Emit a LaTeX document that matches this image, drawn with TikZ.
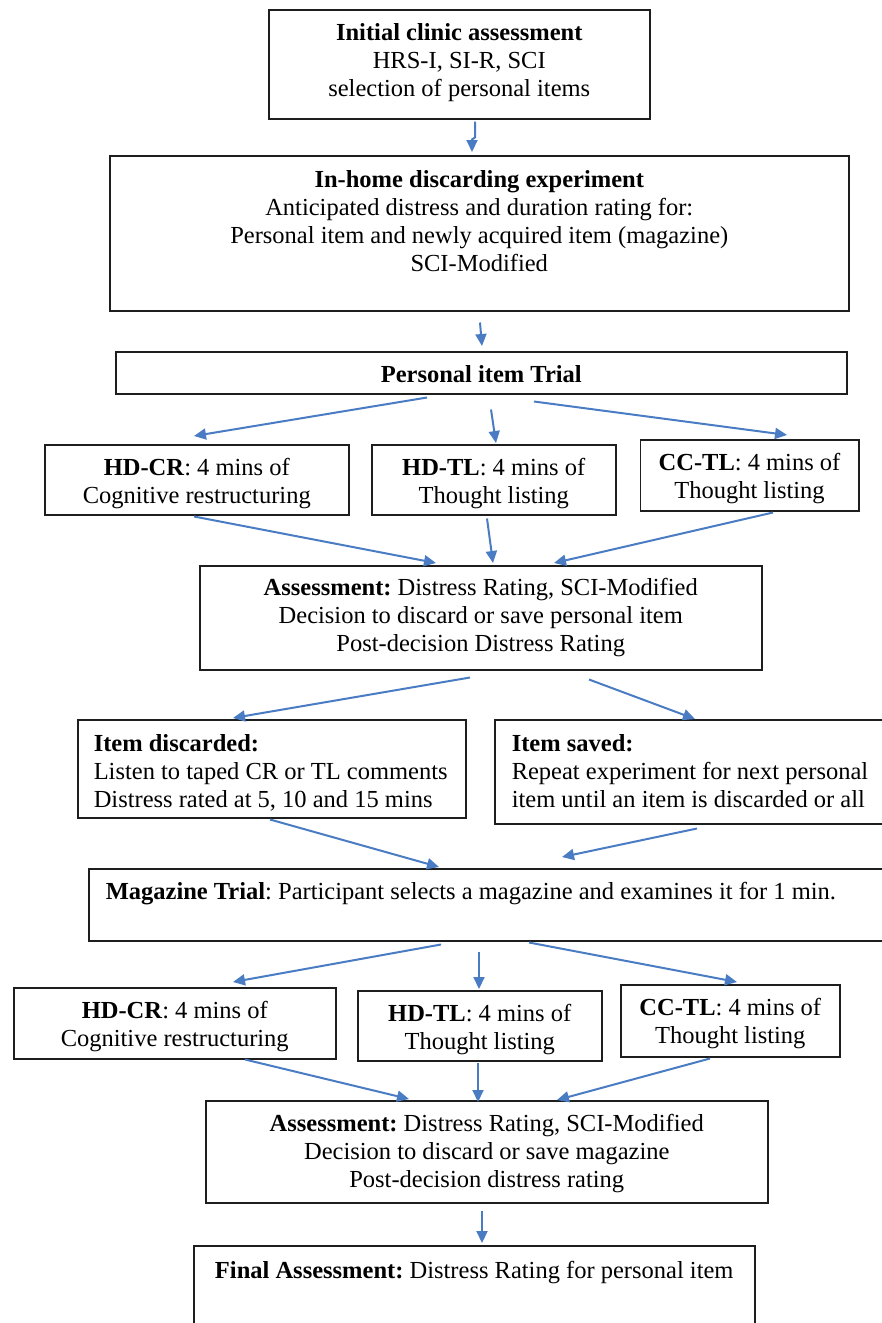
\documentclass[tikz,border=0pt]{standalone}
\usepackage{fontspec}
\setmainfont{Liberation Serif}
\usetikzlibrary{arrows.meta}
\definecolor{arrblue}{HTML}{4A7CC4}
\definecolor{boxline}{HTML}{1E1E1E}
\newcommand\cbx[4]{\parbox[t][#2][t]{#1}{\vspace*{#3}\centering\strut #4}}
\newcommand\lbx[5]{\parbox[t][#2][t]{#1}{\vspace*{#3}\raggedright\leftskip=#4\strut #5}}
\frenchspacing
\begin{document}
\begin{tikzpicture}[x=1pt,y=-1pt,
  bx/.style={draw=boxline, line width=1.5pt, inner sep=0pt, anchor=north west,
    font=\fontsize{24.5}{28}\selectfont\frenchspacing},
  arr/.style={draw=arrblue, line width=2pt, -{Triangle[length=12pt,width=11pt]}}]
\useasboundingbox (0,0) rectangle (882,1323);
\clip (0,0) rectangle (882,1323);

\node[bx] (init) at (268,9) {\cbx{381pt}{109pt}{11.4pt}{\textbf{Initial clinic assessment}\\HRS-I, SI-R, SCI\\selection of personal items}};
\node[bx] (inhome) at (109,155) {\cbx{739pt}{155pt}{12.4pt}{\textbf{In-home discarding experiment}\\Anticipated distress and duration rating for:\\Personal item and newly acquired item (magazine)\\SCI-Modified}};
\node[bx] (trial) at (115,351) {\cbx{731pt}{42pt}{11.4pt}{\textbf{Personal item Trial}}};
\node[bx] (crA) at (44,444) {\cbx{304pt}{70pt}{11.4pt}{\textbf{HD-CR}: 4 mins of\\Cognitive restructuring}};
\node[bx] (tlA) at (371,444) {\cbx{244pt}{70pt}{11.4pt}{\textbf{HD-TL}: 4 mins of\\Thought listing}};
\node[bx] (ccA) at (639.5,439) {\cbx{218.5pt}{71pt}{11.4pt}{\textbf{CC-TL}: 4 mins of\\Thought listing}};
\node[bx] (assessA) at (199,565) {\cbx{562pt}{104pt}{10.4pt}{\textbf{Assessment:} Distress Rating, SCI-Modified\\Decision to discard or save personal item\\Post-decision Distress Rating}};
\node[bx] (disc) at (77,719) {\lbx{388pt}{98pt}{12.4pt}{16pt}{\textbf{Item discarded:}\\Listen to taped CR or TL comments\\Distress rated at 5, 10 and 15 mins}};
\node[bx] (saved) at (494,719) {\lbx{406pt}{104pt}{12.4pt}{17pt}{\textbf{Item saved:}\\Repeat experiment for next personal\\item until an item is discarded or all}};
\node[bx] (mag) at (88,868) {\lbx{812pt}{72pt}{11.4pt}{17pt}{\textbf{Magazine Trial}: Participant selects a magazine and examines it for 1 min.}};
\node[bx] (crB) at (13,987) {\cbx{322pt}{71pt}{11.4pt}{\textbf{HD-CR}: 4 mins of\\Cognitive restructuring}};
\node[bx] (tlB) at (357,990) {\cbx{244pt}{70pt}{11.4pt}{\textbf{HD-TL}: 4 mins of\\Thought listing}};
\node[bx] (ccB) at (620,984) {\cbx{219pt}{72pt}{11.4pt}{\textbf{CC-TL}: 4 mins of\\Thought listing}};
\node[bx] (assessB) at (205,1100) {\cbx{562pt}{102pt}{11.4pt}{\textbf{Assessment:} Distress Rating, SCI-Modified\\Decision to discard or save magazine\\Post-decision distress rating}};
\node[bx] (final) at (193,1245) {\cbx{561pt}{95pt}{13.4pt}{\textbf{Final Assessment:} Distress Rating for personal item}};

% arrows
\draw[arr] ([shift={(207,2)}]init.south west) -- ++(0,16) -- ++(-3,2) -- ([shift={(363,-3)}]inhome.north west);
\draw[arr] ([shift={(371,11)}]inhome.south west) -- ([shift={(367,-5)}]trial.north west);

\draw[arr] ([shift={(312,3)}]trial.south west) -- ([shift={(150,-8)}]crA.north west);
\draw[arr] ([shift={(376,15)}]trial.south west) -- ([shift={(125,-1)}]tlA.north west);
\draw[arr] ([shift={(419,7)}]trial.south west) -- ([shift={(147.5,-4)}]ccA.north west);

\draw[arr] ([shift={(150,1)}]crA.south west) -- ([shift={(237,-2)}]assessA.north west);
\draw[arr] ([shift={(116,3)}]tlA.south west) -- ([shift={(294,-2)}]assessA.north west);
\draw[arr] ([shift={(133.5,1)}]ccA.south west) -- ([shift={(355,-2)}]assessA.north west);

\draw[arr] ([shift={(271,7)}]assessA.south west) -- ([shift={(156,-1)}]disc.north west);
\draw[arr] ([shift={(390,9)}]assessA.south west) -- ([shift={(201,0)}]saved.north west);

\draw[arr] ([shift={(193,1)}]disc.south west) -- ([shift={(351,-1)}]mag.north west);
\draw[arr] ([shift={(203,4)}]saved.south west) -- ([shift={(474,-11)}]mag.north west);

\draw[arr] ([shift={(353,3)}]mag.south west) -- ([shift={(220,-5)}]crB.north west);
\draw[arr] ([shift={(391,10)}]mag.south west) -- ([shift={(122,-1)}]tlB.north west);
\draw[arr] ([shift={(441,1)}]mag.south west) -- ([shift={(117,-2)}]ccB.north west);

\draw[arr] ([shift={(232,0)}]crB.south west) -- ([shift={(204,-1)}]assessB.north west);
\draw[arr] ([shift={(121,1)}]tlB.south west) -- ([shift={(273,2)}]assessB.north west);
\draw[arr] ([shift={(90,1)}]ccB.south west) -- ([shift={(352,0)}]assessB.north west);

\draw[arr] ([shift={(277,7)}]assessB.south west) -- ([shift={(289,-2)}]final.north west);
\end{tikzpicture}
\end{document}
